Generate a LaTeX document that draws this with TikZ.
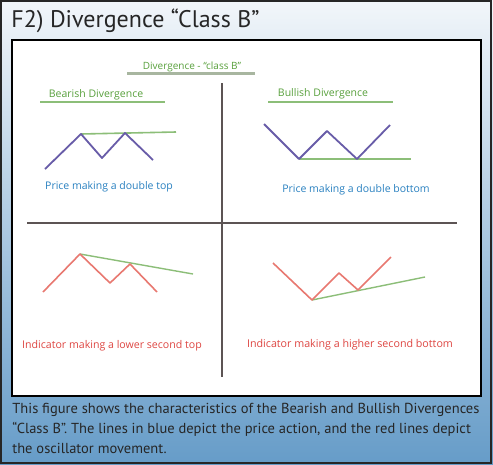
\documentclass[tikz,border=0pt]{standalone}
\usepackage{fontspec}
\setmainfont{PT Sans}
\newfontfamily\labelfont{Open Sans}
\usetikzlibrary{calc}

\definecolor{bgtop}{RGB}{242,246,250}
\definecolor{bgmid}{RGB}{200,219,236}
\definecolor{bgbot}{RGB}{102,156,200}
\definecolor{axiscol}{RGB}{92,84,84}
\definecolor{greentext}{RGB}{88,160,60}
\definecolor{greenline}{RGB}{140,190,120}
\definecolor{greygreen}{RGB}{130,150,120}
\definecolor{pricecol}{RGB}{104,92,168}
\definecolor{bluetext}{RGB}{40,128,192}
\definecolor{redtext}{RGB}{222,70,66}
\definecolor{redline}{RGB}{232,120,112}

\tikzset{
  lbl/.style={inner sep=1pt, font=\labelfont\fontsize{#1}{12}\selectfont},
  captxt/.style={anchor=base west, inner sep=0pt, text=black!85, font=\fontsize{14.5}{20}\selectfont}
}

\begin{document}
\begin{tikzpicture}[x=1pt, y=-1pt, thick]
  \useasboundingbox (0,0) rectangle (493,464);
  % background and frame
  \shade[top color=bgtop, middle color=bgmid, bottom color=bgbot] (0,0) rectangle (493,464);
  \draw[line width=1.6pt, black!85] (0.8,0.8) rectangle (491,463.2);
  \draw[line width=1.2pt, fill=white] (12,40) rectangle (481,396);
  \node[anchor=base west, inner sep=0pt, text=black!85, font=\fontsize{24}{26}\selectfont] (title) at (11,27)
    {F2) Divergence “Class B”};
  % axes
  \coordinate (V1) at (222,83);
  \coordinate (V2) at (222,377);
  \coordinate (H1) at (27,223);
  \coordinate (H2) at (457,223);
  \draw[line width=2.5pt, axiscol] (V1)--(V2);
  \draw[line width=2.5pt, axiscol] (H1)--(H2);
  % headings
  \node[lbl=10, text=greentext] (head) at (192,67) {Divergence - “class B”};
  \draw[line width=2.2pt, greygreen!70] (127,73.5)--(255,73.5);
  \node[lbl=10.5, text=greentext] (bear) at (96,95) {Bearish Divergence};
  \draw[line width=2pt, greenline] (40,102)--(165,102);
  \node[lbl=10.5, text=greentext] (bull) at (323,94) {Bullish Divergence};
  \draw[line width=2pt, greenline] (268,102)--(393,102);
  % bearish price: double top
  \coordinate (a1) at (45,169);
  \coordinate (a2) at (81,134);
  \coordinate (a3) at (102,158);
  \coordinate (a4) at (125,133);
  \coordinate (a5) at (153,160);
  \coordinate (a6) at (176,132);
  \draw[line width=1.6pt, greenline] (a2)--(a6);
  \draw[line width=1.8pt, pricecol, line join=round] (a1)--(a2)--(a3)--(a4)--(a5);
  % bullish price: double bottom
  \coordinate (b1) at (264,124);
  \coordinate (b2) at (299,159);
  \coordinate (b3) at (327,131);
  \coordinate (b4) at (357,159);
  \coordinate (b5) at (390,125);
  \coordinate (b6) at (411,160);
  \draw[line width=1.6pt, greenline] (b2)--(b6 |- b2);
  \draw[line width=1.8pt, pricecol, line join=round] (b1)--(b2)--(b3)--(b4)--(b5);
  \node[lbl=10.5, text=bluetext] (ptop) at (109,187) {Price making a double top};
  \node[lbl=10.5, text=bluetext] (pbot) at (356,190) {Price making a double bottom};
  % bearish indicator: lower second top
  \coordinate (c1) at (43,292);
  \coordinate (c2) at (80,254);
  \coordinate (c3) at (110,283);
  \coordinate (c4) at (130,264);
  \coordinate (c5) at (157,292);
  \coordinate (c6) at (193,274);
  \draw[line width=1.4pt, greenline] (c2)--(c6);
  \draw[line width=1.6pt, redline, line join=round] (c1)--(c2)--(c3)--(c4)--(c5);
  % bullish indicator: higher second bottom
  \coordinate (d1) at (273,263);
  \coordinate (d2) at (312,300);
  \coordinate (d3) at (339,273);
  \coordinate (d4) at (358,290);
  \coordinate (d5) at (391,257);
  \coordinate (d6) at (425,277);
  \draw[line width=1.4pt, greenline] (d2)--(d6);
  \draw[line width=1.6pt, redline, line join=round] (d1)--(d2)--(d3)--(d4)--(d5);
  \node[lbl=10.6, text=redtext] (itop) at (112,346) {Indicator making a lower second top};
  \node[lbl=10.7, text=redtext] (ibot) at (350,345) {Indicator making a higher second bottom};
  % caption
  \node[captxt] (cap1) at (12,413) {This figure shows the characteristics of the Bearish and Bullish Divergences};
  \node[captxt] (cap2) at (12,433) {“Class B”. The lines in blue depict the price action, and the red lines depict};
  \node[captxt] (cap3) at (12,453) {the oscillator movement.};
\end{tikzpicture}
\end{document}
